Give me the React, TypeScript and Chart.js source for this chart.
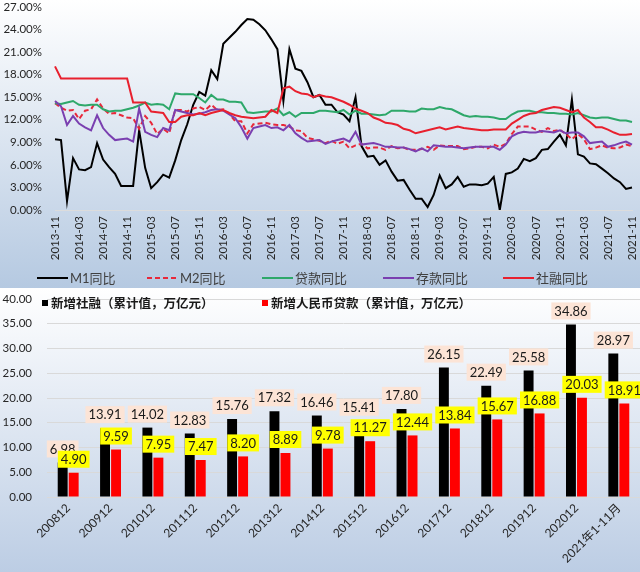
import React, { useEffect, useRef } from "react";
import { Chart, registerables } from "chart.js";

Chart.register(...registerables);

// ---------- Top chart data (monthly YoY %, 2013-11 .. 2021-11) ----------
const months: string[] = [];
for (let k = 0; k < 97; k++) {
  const t = 2013 * 12 + 10 + k;
  const y = Math.floor(t / 12);
  const m = (t % 12) + 1;
  months.push(`${y}-${m < 10 ? "0" + m : m}`);
}

const m1Yoy = [
  9.4, 9.3,
  1.2, 6.9, 5.4, 5.3, 5.7, 8.9, 6.7, 5.7, 4.8, 3.2, 3.2, 3.2,
  10.6, 5.6, 2.9, 3.7, 4.7, 4.3, 6.6, 9.3, 11.4, 14.0, 15.7, 15.2,
  18.6, 17.4, 22.1, 22.9, 23.7, 24.6, 25.4, 25.3, 24.7, 23.9, 22.7, 21.4,
  14.5, 21.4, 18.8, 18.5, 17.0, 15.0, 15.3, 14.0, 14.0, 13.0, 12.7, 11.8,
  15.0, 8.5, 7.1, 7.2, 6.0, 6.6, 5.1, 3.9, 4.0, 2.7, 1.5, 1.5,
  0.4, 2.0, 4.6, 2.9, 3.4, 4.4, 3.1, 3.4, 3.4, 3.3, 3.5, 4.4,
  0.0, 4.8, 5.0, 5.5, 6.8, 6.5, 6.9, 8.0, 8.1, 9.1, 10.0, 8.6,
  14.7, 7.4, 7.1, 6.2, 6.1, 5.5, 4.9, 4.2, 3.7, 2.8, 3.0,
];

const m2Yoy = [
  14.2, 13.6,
  13.2, 13.3, 12.1, 13.2, 13.4, 14.7, 13.5, 12.8, 12.9, 12.6, 12.3, 12.2,
  10.8, 12.5, 11.6, 10.1, 10.8, 10.2, 13.3, 13.3, 13.1, 13.5, 13.7, 13.3,
  14.0, 13.3, 13.4, 12.8, 11.8, 11.8, 10.2, 11.4, 11.5, 11.6, 11.4, 11.3,
  11.3, 11.1, 10.6, 10.5, 9.6, 9.4, 9.2, 8.9, 9.2, 8.8, 9.1, 8.2,
  8.6, 8.8, 8.2, 8.3, 8.3, 8.0, 8.5, 8.2, 8.3, 8.0, 8.0, 8.1,
  8.4, 8.0, 8.6, 8.5, 8.5, 8.5, 8.1, 8.2, 8.4, 8.4, 8.2, 8.7,
  8.4, 8.8, 10.1, 11.1, 11.1, 11.1, 10.7, 10.4, 10.9, 10.5, 10.7, 10.1,
  9.4, 10.1, 9.4, 8.1, 8.3, 8.6, 8.3, 8.2, 8.3, 8.7, 8.5,
];

const loanYoy = [
  14.2, 14.1,
  14.3, 14.5, 14.0, 13.9, 14.0, 14.0, 13.4, 13.1, 13.2, 13.2, 13.4, 13.6,
  13.9, 14.3, 14.0, 14.1, 14.0, 13.4, 15.5, 15.4, 15.4, 15.4, 14.9, 14.3,
  15.3, 14.7, 14.7, 14.4, 14.4, 14.3, 13.0, 12.9, 13.0, 13.1, 13.1, 13.5,
  12.6, 13.0, 12.4, 12.9, 12.9, 12.9, 13.2, 13.2, 13.1, 13.0, 13.3, 12.7,
  13.2, 12.8, 12.8, 12.7, 12.6, 12.7, 13.2, 13.2, 13.2, 13.1, 13.1, 13.5,
  13.4, 13.4, 13.7, 13.5, 13.4, 13.0, 12.6, 12.4, 12.5, 12.4, 12.4, 12.3,
  12.1, 12.1, 12.7, 13.1, 13.2, 13.2, 13.0, 13.0, 12.9, 12.9, 12.8, 12.8,
  12.7, 12.9, 12.6, 12.3, 12.2, 12.3, 12.3, 12.1, 11.9, 11.9, 11.7,
];

const depositYoy = [
  14.5, 13.8, 11.3, 12.5, 11.5, 11.0, 10.6, 12.6, 10.9, 10.0, 9.3, 9.4,
  9.5, 9.1, 13.5, 10.4, 10.0, 9.7, 10.9, 10.6, 13.3, 13.1, 12.9, 12.7,
  12.8, 13.0, 13.3, 13.4, 13.2, 12.7, 12.2, 11.0, 9.5, 10.9, 11.1, 11.3,
  10.9, 11.0, 10.6, 11.3, 10.2, 9.6, 9.1, 9.2, 9.3, 8.8, 9.1, 9.3,
  9.5, 9.1, 10.4, 8.7, 8.8, 8.9, 8.7, 8.4, 8.4, 8.3, 8.3, 8.1,
  7.8, 8.2, 7.8, 8.6, 8.5, 8.4, 8.4, 8.3, 8.2, 8.3, 8.4, 8.4,
  8.4, 8.4, 8.0, 8.7, 9.8, 10.2, 10.4, 10.3, 10.3, 10.5, 10.4, 10.3,
  10.6, 10.2, 10.3, 10.3, 9.8, 8.9, 9.0, 9.1, 8.4, 8.6, 8.9, 9.1, 8.7,
];

const tsfYoy = [
  19.1, 17.5, 17.5, 17.5, 17.5, 17.5, 17.5, 17.5, 17.5, 17.5, 17.5, 17.5,
  17.5, 14.3, 14.3, 14.3, 13.1, 13.0, 12.9, 11.7, 11.7, 12.4, 12.6, 12.6,
  12.9, 12.6, 12.9, 13.1, 13.3, 12.9, 12.6, 12.4, 12.3, 12.2, 12.3, 12.4,
  13.3, 12.9, 16.2, 16.4, 15.8, 15.5, 15.4, 15.0, 15.3, 15.1, 15.0, 14.7,
  14.4, 14.0, 13.5, 13.2, 12.9, 12.3, 12.0, 11.6, 11.5, 11.3, 10.8, 10.6,
  10.2, 10.4, 10.6, 10.8, 11.0, 10.7, 10.9, 11.1, 10.9, 10.8, 10.7, 10.6,
  10.6, 10.7, 10.7, 10.7, 11.5, 12.0, 12.5, 12.8, 12.9, 13.3, 13.5, 13.7,
  13.6, 13.3, 13.0, 13.3, 12.3, 11.7, 11.0, 11.0, 10.7, 10.3, 10.0, 10.0, 10.1,
];

const lineNames = ["M1同比", "M2同比", "贷款同比", "存款同比", "社融同比"];
const lineColors = ["#000000", "#e8283a", "#2ea86a", "#7a3fb0", "#e8202e"];

// ---------- Bottom chart data ----------
const barCategories = [
  "200812", "200912", "201012", "201112", "201212", "201312", "201412",
  "201512", "201612", "201712", "201812", "201912", "202012", "2021年1-11月",
];
const tsfNew = [6.98, 13.91, 14.02, 12.83, 15.76, 17.32, 16.46, 15.41, 17.8, 26.15, 22.49, 25.58, 34.86, 28.97];
const loanNew = [4.9, 9.59, 7.95, 7.47, 8.2, 8.89, 9.78, 11.27, 12.44, 13.84, 15.67, 16.88, 20.03, 18.91];
const barNames = ["新增社融（累计值，万亿元）", "新增人民币贷款（累计值，万亿元）"];

const tickFont = { family: "Lato, 'Noto Sans CJK SC'", size: 11.5 };

const topLegendPlugin = {
  id: "topLegend",
  afterDraw(chart: any) {
    const ctx = chart.ctx;
    const starts = [37, 147, 262, 383, 503];
    const y = 278;
    ctx.save();
    ctx.font = "13px Lato, 'Noto Sans CJK SC'";
    ctx.textBaseline = "middle";
    ctx.textAlign = "left";
    lineNames.forEach((name, i) => {
      const x0 = starts[i];
      ctx.beginPath();
      ctx.setLineDash(i === 1 ? [5, 3] : []);
      ctx.strokeStyle = lineColors[i];
      ctx.lineWidth = 2;
      ctx.moveTo(x0, y);
      ctx.lineTo(x0 + 31, y);
      ctx.stroke();
      ctx.setLineDash([]);
      ctx.fillStyle = "#404040";
      ctx.fillText(name, x0 + 33, y + 1);
    });
    ctx.restore();
  },
};

const bottomPlugin = {
  id: "barLabels",
  afterDatasetsDraw(chart: any) {
    const ctx = chart.ctx;
    ctx.save();
    ctx.font = "13px Lato";
    ctx.textAlign = "center";
    ctx.textBaseline = "middle";
    chart.data.datasets.forEach((ds: any, di: number) => {
      const meta = chart.getDatasetMeta(di);
      meta.data.forEach((bar: any, i: number) => {
        const txt = Number(ds.data[i]).toFixed(2);
        const w = ctx.measureText(txt).width + 6;
        const h = 17;
        const bottom = bar.y - 5;
        ctx.fillStyle = di === 0 ? "#fce4d6" : "#ffff00";
        ctx.fillRect(bar.x - w / 2, bottom - h, w, h);
        ctx.fillStyle = "#1a1a1a";
        ctx.fillText(txt, bar.x, bottom - h / 2 + 0.5);
      });
    });
    ctx.restore();
  },
  afterDraw(chart: any) {
    const ctx = chart.ctx;
    ctx.save();
    ctx.font = "bold 12.5px 'Noto Sans CJK SC'";
    ctx.textBaseline = "middle";
    ctx.textAlign = "left";
    const starts = [42, 262];
    const cols = ["#000000", "#ff0000"];
    const y = 15;
    barNames.forEach((name, i) => {
      ctx.fillStyle = cols[i];
      ctx.fillRect(starts[i], y - 3, 6, 6);
      ctx.fillStyle = "#1a1a1a";
      ctx.fillText(name, starts[i] + 9, y);
    });
    ctx.restore();
  },
};

export default function App() {
  const topRef = useRef<HTMLCanvasElement>(null);
  const botRef = useRef<HTMLCanvasElement>(null);

  useEffect(() => {
    const series = [m1Yoy, m2Yoy, loanYoy, depositYoy, tsfYoy];
    const top = new Chart(topRef.current as HTMLCanvasElement, {
      type: "line",
      data: {
        labels: months,
        datasets: series.map((d, i) => ({
          label: lineNames[i],
          data: d,
          borderColor: lineColors[i],
          backgroundColor: lineColors[i],
          borderWidth: 2,
          borderDash: i === 1 ? [5, 3] : [],
          pointRadius: 0,
          tension: 0,
          fill: false,
          order: 4 - i,
        })),
      },
      options: {
        animation: false,
        responsive: false,
        devicePixelRatio: 1,
        layout: { padding: { top: 7, right: 8, left: 0, bottom: 0 } },
        plugins: { legend: { display: false }, tooltip: { enabled: false } },
        scales: {
          x: {
            grid: { display: false, drawTicks: false },
            border: { display: true, color: "#dcdcdc", width: 1 },
            ticks: {
              autoSkip: false,
              maxRotation: 90,
              minRotation: 90,
              padding: 6,
              color: "#262626",
              font: tickFont,
              callback: (_v: any, i: number) => (i % 4 === 0 ? months[i] : null),
            },
            afterFit: (s: any) => {
              s.height = 78;
              s.paddingLeft = 0;
              s.paddingRight = 0;
            },
          },
          y: {
            min: 0,
            max: 27,
            grid: { display: false, drawTicks: false },
            border: { display: false },
            ticks: {
              stepSize: 3,
              padding: 13,
              color: "#262626",
              font: tickFont,
              callback: (v: any) => Number(v).toFixed(2) + "%",
            },
            afterFit: (s: any) => {
              s.width = 55;
              s.paddingTop = 0;
              s.paddingBottom = 0;
            },
          },
        },
      },
      plugins: [topLegendPlugin],
    } as any);

    const bot = new Chart(botRef.current as HTMLCanvasElement, {
      type: "bar",
      data: {
        labels: barCategories,
        datasets: [
          { label: barNames[0], data: tsfNew, backgroundColor: "#000000", categoryPercentage: 0.52, barPercentage: 0.9 },
          { label: barNames[1], data: loanNew, backgroundColor: "#ff0000", categoryPercentage: 0.52, barPercentage: 0.9 },
        ],
      },
      options: {
        animation: false,
        responsive: false,
        devicePixelRatio: 1,
        layout: { padding: { top: 11, right: 0, left: 0, bottom: 0 } },
        plugins: { legend: { display: false }, tooltip: { enabled: false } },
        scales: {
          x: {
            grid: { display: false, drawTicks: false },
            border: { display: false },
            ticks: {
              autoSkip: false,
              maxRotation: 45,
              minRotation: 45,
              padding: 4,
              color: "#262626",
              font: { family: "Lato, 'Noto Sans CJK SC'", size: 12 },
            },
            afterFit: (s: any) => {
              s.height = 75;
              s.paddingLeft = 0;
              s.paddingRight = 0;
            },
          },
          y: {
            min: 0,
            max: 40,
            grid: { color: "#d9d9d9", drawTicks: false },
            border: { display: false },
            ticks: {
              stepSize: 5,
              padding: 15,
              color: "#262626",
              font: tickFont,
              callback: (v: any) => Number(v).toFixed(2),
            },
            afterFit: (s: any) => {
              s.width = 47;
              s.paddingTop = 0;
              s.paddingBottom = 0;
            },
          },
        },
      },
      plugins: [bottomPlugin],
    } as any);

    return () => {
      top.destroy();
      bot.destroy();
    };
  }, []);

  return (
    <div style={{ position: "fixed", left: 0, top: 0, width: 640, height: 572 }}>
      <div style={{ width: 640, height: 288, background: "linear-gradient(180deg, #ffffff 0%, #b5c9e1 100%)" }}>
        <canvas ref={topRef} width={640} height={288} style={{ display: "block", width: 640, height: 288 }} />
      </div>
      <div style={{ width: 640, height: 284, background: "linear-gradient(180deg, #ffffff 0%, #bccde4 100%)" }}>
        <canvas ref={botRef} width={640} height={284} style={{ display: "block", width: 640, height: 284 }} />
      </div>
    </div>
  );
}
